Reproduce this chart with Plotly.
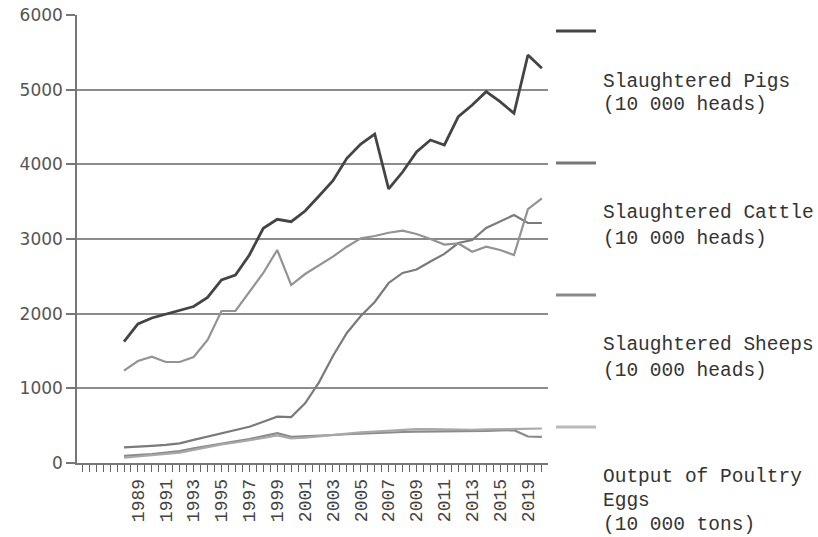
import plotly.graph_objects as go

years = list(range(1988, 2019))

pigs = [1625, 1862, 1942, 1990, 2042, 2096, 2217, 2451, 2518, 2786, 3143, 3264,
        3232, 3375, 3576, 3780, 4081, 4272, 4406, 3670, 3897, 4165, 4326, 4259,
        4638, 4795, 4973, 4839, 4683, 5464, 5286]
cattle = [1236, 1366, 1424, 1353, 1353, 1420, 1647, 2036, 2036, 2290, 2545, 2853,
          2384, 2531, 2652, 2763, 2897, 3009, 3040, 3084, 3111, 3067, 3000, 2926,
          2940, 2830, 2897, 2853, 2786, 3400, 3545]
sheep = [210, 215, 230, 243, 264, 310, 355, 402, 440, 485, 553, 620,
         615, 800, 1080, 1433, 1741, 1969, 2156, 2411, 2545, 2592, 2699, 2800,
         2946, 2987, 3147, 3232, 3321, 3214, 3214]
eggs = [70, 85, 105, 125, 140, 175, 215, 250, 275, 300, 335, 370,
        330, 340, 360, 380, 395, 410, 420, 435, 445, 455, 455, 450,
        445, 445, 450, 455, 460, 460, 462]
other = [95, 105, 120, 140, 160, 195, 230, 265, 290, 320, 355, 400,
         350, 355, 370, 375, 385, 395, 405, 410, 415, 420, 420, 420,
         420, 425, 430, 435, 440, 355, 350]

tick_years = [1989, 1991, 1993, 1995, 1997, 1999, 2001, 2003, 2005, 2007, 2009,
              2011, 2013, 2015, 2017]
tick_labels = ["1989", "1991", "1993", "1995", "1997", "1999", "2001", "2003",
               "2005", "2007", "2009", "2011", "2013", "2015", "2019"]
y_ticks = [0, 1000, 2000, 3000, 4000, 5000, 6000]

legend_names = [["Slaughtered Pigs", "(10 000 heads)"],
                ["Slaughtered Cattle", "(10 000 heads)"],
                ["Slaughtered Sheeps", "(10 000 heads)"],
                ["Output of Poultry", "Eggs", "(10 000 tons)"]]

fig = go.Figure()
series = [
    (other, "#8a8a8a", 2.2),
    (eggs, "#a8a8a8", 2.2),
    (sheep, "#7a7a7a", 2.2),
    (cattle, "#939393", 2.2),
    (pigs, "#444444", 2.8),
]
for vals, col, w in series:
    fig.add_trace(go.Scatter(x=years, y=vals, mode="lines",
                             line=dict(color=col, width=w), showlegend=False,
                             hoverinfo="skip"))

W, H = 818, 537
L, R, T, B = 77, 548, 15, 463
pw, ph = R - L, B - T


def px(xp):
    return (xp - L) / pw


def py(yp):
    return (B - yp) / ph


fig.update_layout(
    width=W, height=H,
    margin=dict(l=L, r=W - R, t=T, b=H - B, autoexpand=False),
    paper_bgcolor="white", plot_bgcolor="white",
    showlegend=False,
)
fig.update_xaxes(
    range=[1984.626, 2018.44],
    automargin=False,
    tickmode="array", tickvals=tick_years, ticktext=tick_labels,
    tickangle=-90,
    tickfont=dict(family="Liberation Mono", size=18, color="#444444"),
    ticks="outside", ticklen=7, tickcolor="#666666", tickwidth=1,
    minor=dict(tickmode="linear", tick0=1988, dtick=0.5, ticks="outside",
               ticklen=7, tickcolor="#666666", tickwidth=1, showgrid=False),
    showline=True, linecolor="#777777", linewidth=1.5,
    showgrid=False, zeroline=False,
)
fig.update_yaxes(
    range=[0, 6000],
    automargin=False,
    tickmode="array", tickvals=y_ticks,
    tickfont=dict(family="DejaVu Sans", size=17, color="#555555"),
    ticks="outside", ticklen=9, tickcolor="#777777", tickwidth=1.5,
    showline=True, linecolor="#777777", linewidth=1.5,
    showgrid=True, gridcolor="#8c8c8c", gridwidth=1.5,
    zeroline=False,
)

swatch_y = [31, 163, 295, 427]
swatch_col = ["#444444", "#777777", "#8a8a8a", "#bbbbbb"]
text_y = [[82, 105], [213, 239], [345, 371], [477, 501, 525]]
for sy, sc in zip(swatch_y, swatch_col):
    fig.add_shape(type="line", xref="paper", yref="paper",
                  x0=px(556), x1=px(596), y0=py(sy), y1=py(sy),
                  line=dict(color=sc, width=3))
for names, ys in zip(legend_names, text_y):
    for t, yy in zip(names, ys):
        fig.add_annotation(text=t, xref="paper", yref="paper",
                           x=px(601), y=py(yy), xanchor="left", yanchor="middle",
                           showarrow=False,
                           font=dict(family="Liberation Mono", size=19.5,
                                     color="#333333"))

fig.write_html("out.html",
               config={"displayModeBar": False},
               post_script="document.body.style.margin='0px';"
                           "document.body.style.overflow='hidden';")
